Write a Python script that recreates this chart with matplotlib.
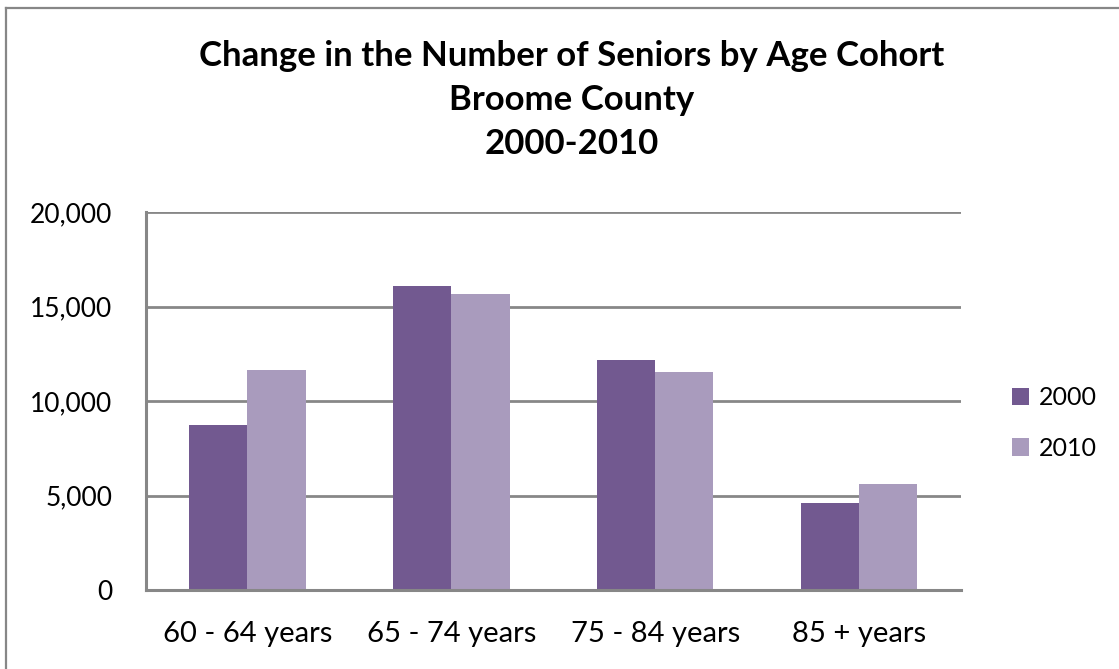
import matplotlib.pyplot as plt
from matplotlib.lines import Line2D
from matplotlib.ticker import FuncFormatter
import numpy as np

# data
cohorts = ['60 - 64 years', '65 - 74 years', '75 - 84 years', '85 + years']
years = ['2000', '2010']
seniors_2000 = [8730, 16060, 12150, 4610]
seniors_2010 = [11620, 15670, 11510, 5620]
title_lines = ['Change in the Number of Seniors by Age Cohort', 'Broome County', '2000-2010']

dark_purple = '#725990'
light_purple = '#a99bbd'
grid_grey = '#878787'

plt.rcParams['font.family'] = ['Lato', 'DejaVu Sans']

W, H = 1119, 669
fig = plt.figure(figsize=(W / 100, H / 100), dpi=100)

# outer frame of the chart (only top and left edges are visible)
fig.add_artist(Line2D([5.5 / W, 5.5 / W], [0, 1 - 7.5 / H], color=grid_grey, lw=1.6))
fig.add_artist(Line2D([5.5 / W, 1], [1 - 7.5 / H, 1 - 7.5 / H], color=grid_grey, lw=1.6))

# plot area in pixels: x 145..961, y 212..590
ax = fig.add_axes([145.5 / W, (H - 590) / H, 815.5 / W, 378 / H])

x = np.arange(len(cohorts))
bw = 0.286
ax.bar(x - bw / 2, seniors_2000, bw, color=dark_purple, label=years[0], zorder=3)
ax.bar(x + bw / 2, seniors_2010, bw, color=light_purple, label=years[1], zorder=3)

ax.set_xlim(-0.5, len(cohorts) - 0.5)
ax.set_ylim(0, 20000)
ax.set_yticks(range(0, 20001, 5000))
ax.yaxis.set_major_formatter(FuncFormatter(lambda v, p: f'{int(v):,}'))
ax.set_xticks(x)
ax.set_xticklabels(cohorts)
ax.tick_params(axis='both', length=0, colors='black')
ax.tick_params(axis='y', labelsize=19, pad=24)
ax.tick_params(axis='x', labelsize=21, pad=22)

ax.grid(axis='y', color=grid_grey, lw=2, zorder=0)
for side in ['top', 'right']:
    ax.spines[side].set_visible(False)
for side in ['left', 'bottom']:
    ax.spines[side].set_color(grid_grey)
    ax.spines[side].set_linewidth(2.2)
    ax.spines[side].set_zorder(4)

# title, three centred lines
fig.text(572 / W, 1 - 100 / H, '\n'.join(title_lines), ha='center', va='center',
         fontsize=25, fontweight='bold', linespacing=1.45)

ax.legend(loc='center left', bbox_to_anchor=(1002 / W, 1 - 423 / H),
          bbox_transform=fig.transFigure, frameon=False, fontsize=18,
          handlelength=0.68, handleheight=0.68, handletextpad=0.4,
          labelspacing=1.1, borderaxespad=0)

fig.savefig('out.png', dpi=100)
